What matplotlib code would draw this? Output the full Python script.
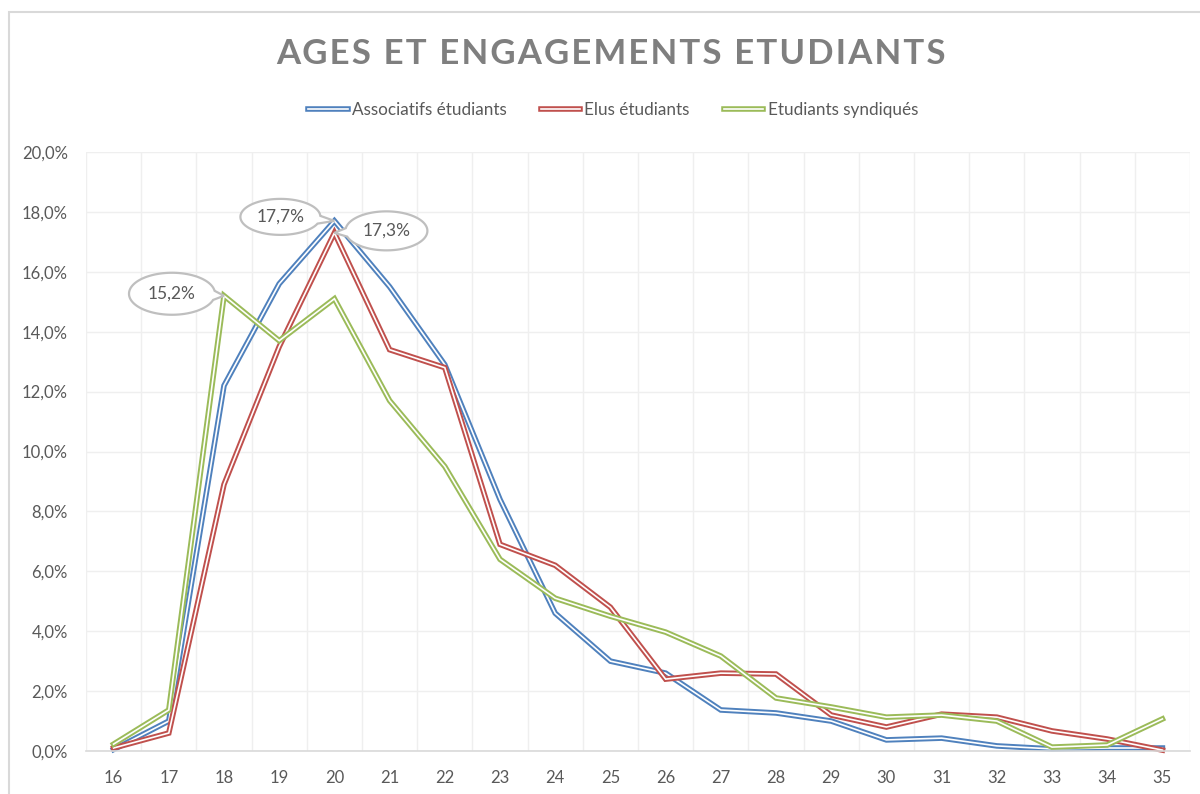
import numpy as np
import matplotlib
matplotlib.use("Agg")
import matplotlib.pyplot as plt
import matplotlib.patheffects as pe
import matplotlib.transforms as mtransforms
from matplotlib.patches import Polygon, Rectangle
from matplotlib.ticker import FuncFormatter, MultipleLocator

# donnees (en %)
ages = list(range(16, 36))
associatifs = [0.05, 1.0, 12.2, 15.6, 17.7, 15.5, 12.9, 8.4, 4.6, 3.0,
               2.6, 1.37, 1.27, 1.0, 0.37, 0.43, 0.17, 0.07, 0.1, 0.1]
elus = [0.1, 0.6, 8.9, 13.5, 17.3, 13.4, 12.8, 6.9, 6.2, 4.8,
        2.4, 2.6, 2.57, 1.2, 0.8, 1.23, 1.13, 0.67, 0.4, 0.03]
syndiques = [0.23, 1.37, 15.2, 13.7, 15.1, 11.7, 9.5, 6.4, 5.1, 4.5,
             3.97, 3.17, 1.77, 1.47, 1.13, 1.2, 1.0, 0.13, 0.2, 1.07]
series_noms = ["Associatifs étudiants", "Elus étudiants", "Etudiants syndiqués"]
couleurs = ["#4F81BD", "#C0504D", "#9BBB59"]

plt.rcParams['font.family'] = ['Lato', 'DejaVu Sans']
gris_txt = "#595959"

fig = plt.figure(figsize=(12, 7.94), dpi=100)
ax = fig.add_axes([86/1200, 43/794, 1104/1200, 599/794])

# bordure du graphique
fig.patches.append(Rectangle((9/1200, -0.05), 1.1, (794-12)/794 + 0.05,
                             transform=fig.transFigure, fill=False,
                             edgecolor="#D9D9D9", linewidth=1.5))

# lignes doubles facon Excel
for vals, nom, c in zip([associatifs, elus, syndiques], series_noms, couleurs):
    ax.plot(ages, vals, color=c, linewidth=4.0, label=nom, clip_on=False,
            path_effects=[pe.Stroke(linewidth=4.0, foreground=c, joinstyle='miter'),
                          pe.Stroke(linewidth=1.2, foreground='white', joinstyle='miter')])

ax.set_xlim(15.5, 35.5)
ax.set_ylim(0, 20)
ax.set_xticks(ages)
ax.xaxis.set_minor_locator(MultipleLocator(1, offset=0.5))
ax.yaxis.set_major_locator(MultipleLocator(2))
ax.yaxis.set_major_formatter(FuncFormatter(lambda v, p: f"{v:.1f}%".replace(".", ",")))
ax.grid(which='minor', axis='x', color="#EFEFEF", linewidth=1)
ax.grid(which='major', axis='y', color="#EFEFEF", linewidth=1)
ax.set_axisbelow(True)
ax.tick_params(which='both', length=0)
ax.tick_params(axis='y', labelsize=12, labelcolor=gris_txt, pad=13)
ax.tick_params(axis='x', labelsize=12, labelcolor=gris_txt, pad=14)
for s in ['top', 'right', 'left']:
    ax.spines[s].set_visible(False)
ax.spines['bottom'].set_color("#D9D9D9")
ax.spines['bottom'].set_linewidth(1.2)

# bulles (ellipses avec pointe)
def bulle(x, y, texte, dx, dy, a, b):
    trans = fig.dpi_scale_trans + mtransforms.ScaledTranslation(x, y, ax.transData)
    theta = np.arctan2(-dy / b, -dx / a)
    dt = 0.22
    t = np.linspace(theta + dt, theta - dt + 2*np.pi, 120)
    pts = np.column_stack([dx + a*np.cos(t), dy + b*np.sin(t)])
    pts = np.vstack([pts, [0, 0]]) / 100.0
    ax.add_patch(Polygon(pts, closed=True, transform=trans, facecolor='white',
                         edgecolor="#BFBFBF", linewidth=1.6, zorder=5, clip_on=False))
    ax.text(dx/100.0, dy/100.0, texte, transform=trans, ha='center', va='center',
            fontsize=12.5, color=gris_txt, zorder=6)

bulle(18, syndiques[2], "15,2%", -52, 2, 43, 21)
bulle(20, associatifs[4], "17,7%", -54, 4, 40, 18)
bulle(20, elus[4], "17,3%", 52, 2, 41, 19.5)

fig.text(0.509, 1 - 54/794, "\u200a".join("AGES ET ENGAGEMENTS ETUDIANTS"),
         ha='center', va='center', fontsize=25, fontweight='bold', color="#7F7F7F")

fig.legend(loc='center', bbox_to_anchor=(0.511, 1 - 110/794), ncol=3, frameon=False,
           fontsize=12.3, labelcolor=gris_txt, handlelength=2.3, handletextpad=0.25,
           columnspacing=2.0)

fig.savefig("out.png", dpi=100)
